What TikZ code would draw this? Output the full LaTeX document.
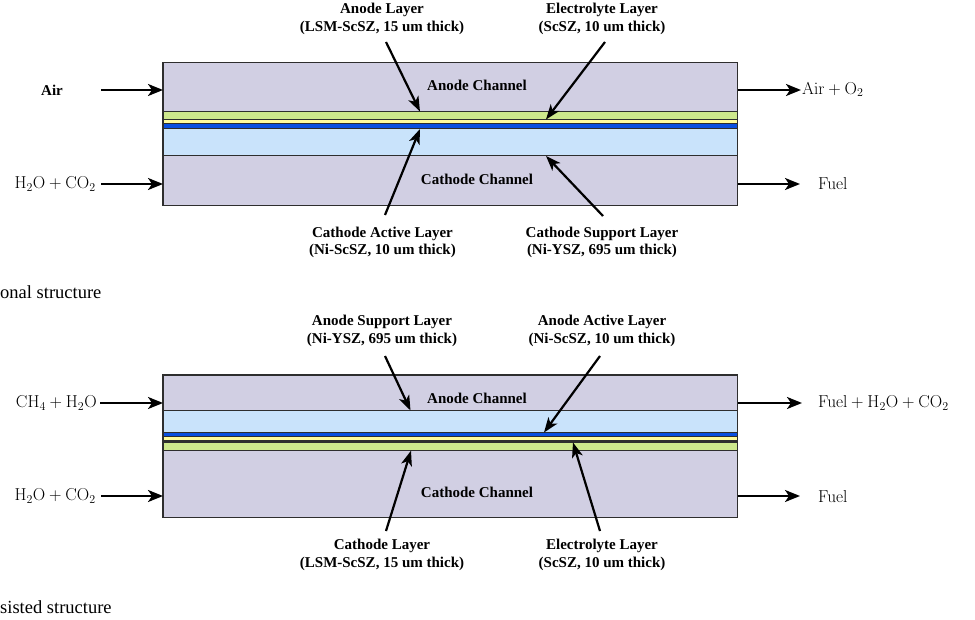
\documentclass[tikz,border=0pt]{standalone}
\usepackage[no-math]{fontspec}
\setmainfont{Liberation Serif}
\usetikzlibrary{arrows.meta}
\definecolor{chancol}{HTML}{D1CFE3}
\definecolor{greencol}{HTML}{CDE88C}
\definecolor{yellowcol}{HTML}{FFFB9C}
\definecolor{bluecol}{HTML}{0A4FE0}
\definecolor{lbluecol}{HTML}{C9E3FB}
\definecolor{edgecol}{HTML}{2E2E2E}
\tikzset{
  flow/.style={line width=2.2pt, -{Stealth[length=15pt,width=12pt,inset=4pt]}},
  pointer/.style={line width=2.2pt, -{Stealth[length=15pt,width=11pt,inset=4pt]}},
  chan/.style={draw=edgecol, line width=1.3pt, fill=chancol},
  layer/.style={draw=edgecol, line width=1pt},
  boldlab/.style={font=\bfseries\fontsize{15}{17.7}\selectfont, align=center, inner sep=0pt},
  mathlab/.style={font=\LARGE, inner sep=0pt},
  caption/.style={font=\fontsize{18.5}{22}\selectfont, inner sep=0pt, anchor=west}
}
\begin{document}
\begin{tikzpicture}[x=1pt,y=-1pt]
\useasboundingbox (0,0) rectangle (975,620);

% ===== Top diagram (conventional) =====
\path[chan] (163,62.3) rectangle (737.5,205.7);
\path[layer, fill=lbluecol] (163,128.8) rectangle (737.5,155.5);
\path[layer, fill=bluecol] (163,123.5) rectangle (737.5,128.8);
\path[layer, fill=yellowcol] (163,119.5) rectangle (737.5,123.5);
\path[layer, fill=greencol] (163,111.7) rectangle (737.5,119.5);
\path[chan, fill=none] (163,62.3) rectangle (737.5,205.7);

\node[boldlab] (tan) at (477,85) {Anode Channel};
\node[boldlab] (tca) at (477,179) {Cathode Channel};

\node[boldlab] (tAir) at (52,90) {Air};
\node[mathlab, anchor=east] (tH2O) at (96,184) {$\mathrm{H_2O+CO_2}$};
\coordinate (tinA) at (163,90);
\coordinate (tinC) at (163,184);
\draw[flow] (101,90) -- (tinA);
\draw[flow] (101,184) -- (tinC);

\node[mathlab, anchor=west] (tAirO) at (802,89.5) {$\mathrm{Air+O_2}$};
\node[mathlab, anchor=west] (tFuel) at (818,184) {$\mathrm{Fuel}$};
\coordinate (toutA) at (737.5,90);
\coordinate (toutC) at (737.5,184);
\draw[flow] (toutA) -- (801,90);
\draw[flow] (toutC) -- (800,184);

\node[boldlab] (tl1) at (382,19) {Anode Layer\\(LSM-ScSZ, 15 um thick)};
\node[boldlab] (tl2) at (602,19) {Electrolyte Layer\\(ScSZ, 10 um thick)};
\node[boldlab] (tl3) at (382.5,242.5) {Cathode Active Layer\\(Ni-ScSZ, 10 um thick)};
\node[boldlab] (tl4) at (602,242.5) {Cathode Support Layer\\(Ni-YSZ, 695 um thick)};

\coordinate (ta1) at (386,42);   \coordinate (tt1) at (420,111.5);
\coordinate (ta2) at (605,42);   \coordinate (tt2) at (546,119.5);
\coordinate (ta3) at (385,215);  \coordinate (tt3) at (420,129);
\coordinate (ta4) at (603,216);  \coordinate (tt4) at (546,156);
\draw[pointer] (ta1) -- (tt1);
\draw[pointer] (ta2) -- (tt2);
\draw[pointer] (ta3) -- (tt3);
\draw[pointer] (ta4) -- (tt4);

\node[caption] (cap1) at (0,292.5) {onal structure};

% ===== Bottom diagram (assisted) =====
\path[chan] (163,375) rectangle (737.5,517.7);
\path[layer, fill=lbluecol] (163,410.5) rectangle (737.5,432.5);
\path[layer, fill=bluecol] (163,432.5) rectangle (737.5,436.7);
\path[fill=edgecol] (163,440) rectangle (737.5,442.5);
\path[layer, fill=yellowcol] (163,436.7) rectangle (737.5,440.3);
\path[layer, fill=greencol] (163,442.5) rectangle (737.5,450.7);
\path[chan, fill=none] (163,375) rectangle (737.5,517.7);

\node[boldlab] (ban) at (477,398.5) {Anode Channel};
\node[boldlab] (bca) at (477,492.5) {Cathode Channel};

\node[mathlab, anchor=east] (bCH4) at (97,403) {$\mathrm{CH_4+H_2O}$};
\node[mathlab, anchor=east] (bH2O) at (96,496) {$\mathrm{H_2O+CO_2}$};
\coordinate (binA) at (163,403);
\coordinate (binC) at (163,496);
\draw[flow] (100,403) -- (binA);
\draw[flow] (101,496) -- (binC);

\node[mathlab, anchor=west] (bFuelA) at (818,403) {$\mathrm{Fuel+H_2O+CO_2}$};
\node[mathlab, anchor=west] (bFuel) at (818,496) {$\mathrm{Fuel}$};
\coordinate (boutA) at (737.5,403);
\coordinate (boutC) at (737.5,496);
\draw[flow] (boutA) -- (802,403);
\draw[flow] (boutC) -- (800,496);

\node[boldlab] (bl1) at (382,331) {Anode Support Layer\\(Ni-YSZ, 695 um thick)};
\node[boldlab] (bl2) at (602,331) {Anode Active Layer\\(Ni-ScSZ, 10 um thick)};
\node[boldlab] (bl3) at (382,555) {Cathode Layer\\(LSM-ScSZ, 15 um thick)};
\node[boldlab] (bl4) at (602,555) {Electrolyte Layer\\(ScSZ, 10 um thick)};

\coordinate (ba1) at (385,356);  \coordinate (bt1) at (410.5,410.5);
\coordinate (ba2) at (600,356);  \coordinate (bt2) at (544,432.5);
\coordinate (ba3) at (386,531);  \coordinate (bt3) at (411,450.7);
\coordinate (ba4) at (600,531);  \coordinate (bt4) at (573,442.5);
\draw[pointer] (ba1) -- (bt1);
\draw[pointer] (ba2) -- (bt2);
\draw[pointer] (ba3) -- (bt3);
\draw[pointer] (ba4) -- (bt4);

\node[caption] (cap2) at (0,607) {sisted structure};
\end{tikzpicture}
\end{document}
